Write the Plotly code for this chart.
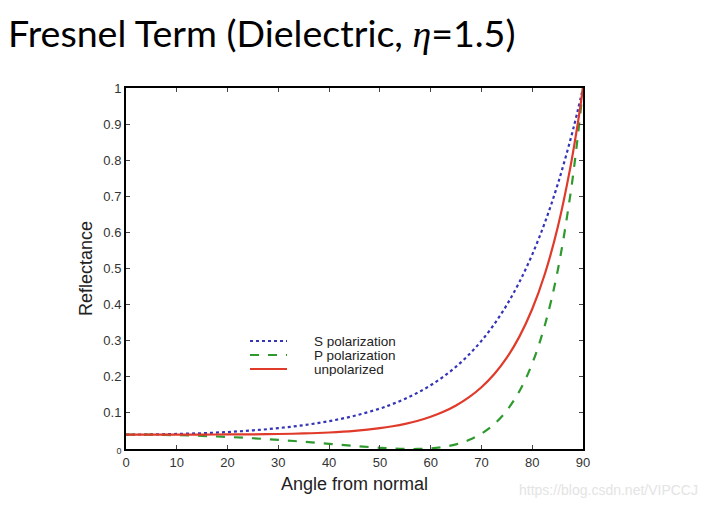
import plotly.graph_objects as go

angles = [0, 5, 10, 15, 20, 25, 30, 35, 40, 45, 50, 52.5, 55, 57.5, 60, 62.5, 65,
          67.5, 70, 72.5, 75, 77.5, 80, 82.5, 85, 87.5, 89, 90]
s_pol = [0.04, 0.04041, 0.04166, 0.04383, 0.04708, 0.05162, 0.05779, 0.06608, 0.07716,
         0.09201, 0.11205, 0.1246, 0.13927, 0.15645, 0.17657, 0.20023, 0.22806, 0.26088,
         0.29959, 0.34532, 0.39935, 0.4632, 0.53859, 0.62755, 0.73234, 0.85554, 0.93948, 1.0]
p_pol = [0.04, 0.03959, 0.03837, 0.03633, 0.03345, 0.02975, 0.02525, 0.02004, 0.01431,
         0.00847, 0.00328, 0.00134, 0.00018, 0.00017, 0.0018, 0.00576, 0.01296, 0.02465,
         0.04249, 0.0688, 0.10676, 0.16074, 0.23681, 0.34357, 0.49324, 0.70344, 0.86889, 1.0]
unpol = [0.04, 0.04, 0.04002, 0.04008, 0.04027, 0.04069, 0.04152, 0.04306, 0.04574,
         0.05024, 0.05767, 0.06297, 0.06973, 0.07831, 0.08919, 0.103, 0.12051, 0.14277,
         0.17104, 0.20706, 0.25306, 0.31197, 0.3877, 0.48556, 0.61279, 0.77949, 0.90419, 1.0]

series_names = ["S polarization", "P polarization", "unpolarized"]
series_colors = ["#3434b8", "#2e9a2e", "#e03a2a"]
series_dash = ["dot", "dash", "solid"]

x_ticks = [0, 10, 20, 30, 40, 50, 60, 70, 80, 90]
y_ticks = [0, 0.1, 0.2, 0.3, 0.4, 0.5, 0.6, 0.7, 0.8, 0.9, 1]
y_tick_labels = ["<span style=\"font-size:9px\">0</span>", "0.1", "0.2", "0.3", "0.4",
                 "0.5", "0.6", "0.7", "0.8", "0.9", "1"]

# plot area in figure pixels
L, R, T, B = 118, 575, 80, 441
W, H = R - L, B - T

fig = go.Figure()
for ys, name, col, dash in zip([s_pol, p_pol, unpol], series_names, series_colors, series_dash):
    fig.add_trace(go.Scatter(x=angles, y=ys, mode="lines", name=name, showlegend=False,
                             line=dict(color=col, width=2.2, dash=dash, shape="spline")))

axis_common = dict(showline=True, linecolor="black", linewidth=2, mirror="ticks",
                   ticks="inside", ticklen=4, tickcolor="#444", tickwidth=1,
                   showgrid=False, zeroline=False,
                   tickfont=dict(family="Liberation Sans", size=13, color="#333"))

fig.update_xaxes(range=[0, 90], tickvals=x_ticks,
                 title=dict(text="Angle from normal", standoff=9,
                            font=dict(family="Liberation Sans", size=18, color="#222")),
                 **axis_common)
fig.update_yaxes(range=[0, 1], tickvals=y_ticks, ticktext=y_tick_labels,
                 title=dict(text="Reflectance", standoff=6,
                            font=dict(family="Liberation Sans", size=18, color="#222")),
                 **axis_common)

# custom compact legend
shapes = []
annotations = []
rows_px = [333, 347, 361]
for name, col, dash, ry in zip(series_names, series_colors, series_dash, rows_px):
    yp = (B - ry) / H
    shapes.append(dict(type="line", xref="paper", yref="paper",
                       x0=(242 - L) / W, x1=(279 - L) / W, y0=yp, y1=yp,
                       line=dict(color=col, width=2.2, dash=dash)))
    annotations.append(dict(text=name, xref="paper", yref="paper",
                            x=(304 - L) / W, y=yp, xanchor="left", yanchor="middle",
                            showarrow=False, height=14,
                            font=dict(family="Liberation Sans", size=13.5, color="#222")))

annotations.append(dict(text="https://blog.csdn.net/VIPCCJ", xref="paper", yref="paper",
                        x=(692 - L) / W, y=-(482 - B) / H, xanchor="right", yanchor="middle",
                        showarrow=False,
                        font=dict(family="Liberation Sans", size=14, color="#e4e4e4")))

fig.update_layout(
    width=710, height=510,
    margin=dict(l=L, r=710 - R, t=T, b=510 - B),
    paper_bgcolor="white", plot_bgcolor="white",
    title=dict(text="Fresnel Term (Dielectric, <i><span style=\"font-family:'Liberation Serif'\">η</span></i>=1.5)",
               xref="container", x=0, xanchor="left",
               yref="container", y=1 - 26 / 510, yanchor="middle",
               pad=dict(l=0, r=0, t=0, b=0),
               font=dict(family="Lato", size=37.6, color="black")),
    shapes=shapes,
    annotations=annotations,
)

fig.write_html("out.html")
